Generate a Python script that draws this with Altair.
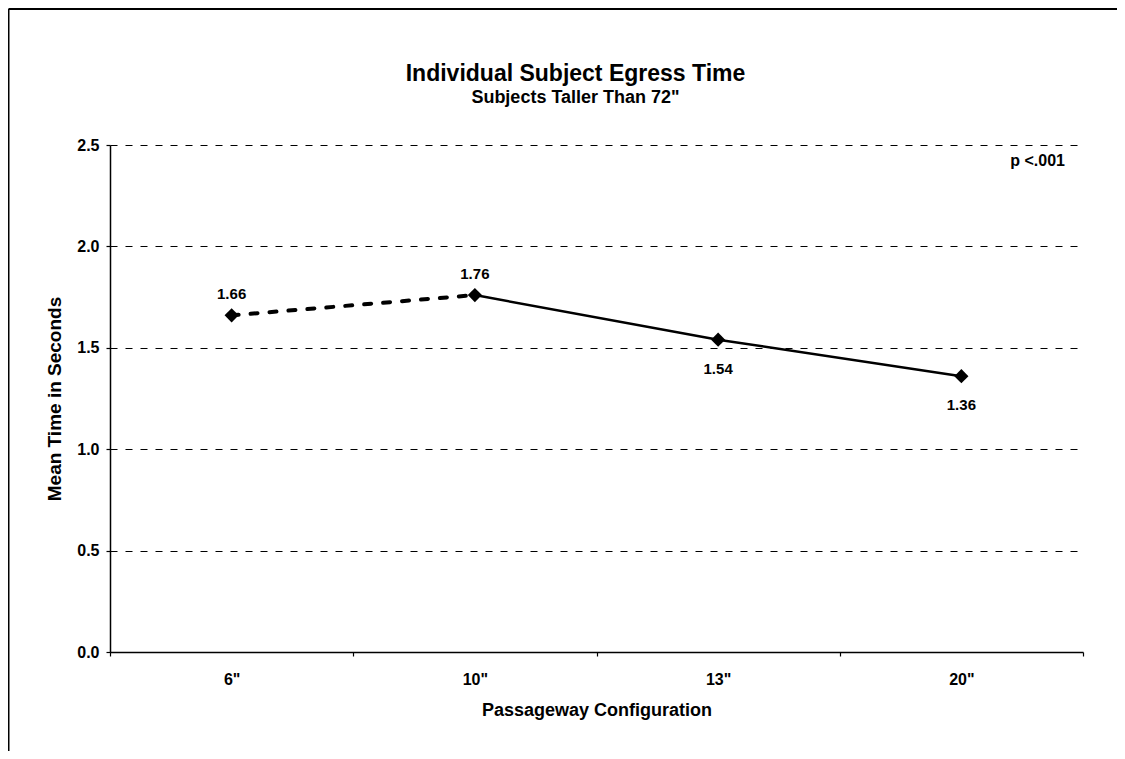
import altair as alt
import pandas as pd

# ---- data ----
configs = ['6"', '10"', '13"', '20"']
mean_times = [1.66, 1.76, 1.54, 1.36]
label_side = ["above", "above", "below", "below"]
dashed_group = ['6"', '10"']
solid_group = ['10"', '13"', '20"']
y_ticks = [0.0, 0.5, 1.0, 1.5, 2.0, 2.5]
note_text = ["p <.001"]

FONT = "Liberation Sans"

df = pd.DataFrame({
    "config": configs,
    "time": mean_times,
    "side": label_side,
    "label": [f"{v:.2f}" for v in mean_times],
})
note_df = pd.DataFrame({"note": note_text})
frame_df = pd.DataFrame({"k": [0]})

x = alt.X(
    "config:N",
    sort=configs,
    scale=alt.Scale(type="band", paddingInner=0, paddingOuter=0),
    axis=alt.Axis(
        title="Passageway Configuration",
        labelAngle=0,
        tickBand="extent",
        grid=False,
        tickSize=4,
        labelPadding=15,
        titlePadding=14,
        labelFontSize=16,
        titleFontSize=18,
    ),
)
y = alt.Y(
    "time:Q",
    scale=alt.Scale(domain=[0, 2.5], nice=False),
    axis=alt.Axis(
        values=y_ticks,
        format=".1f",
        title="Mean Time in Seconds",
        grid=True,
        gridDash=[7, 8],
        gridColor="black",
        gridWidth=1.2,
        gridOpacity=1,
        tickSize=4,
        labelPadding=7,
        titlePadding=12,
        labelFontSize=16,
        titleFontSize=19,
    ),
)

base = alt.Chart(df).encode(x=x, y=y)

dashed = base.transform_filter(
    alt.FieldOneOfPredicate(field="config", oneOf=dashed_group)
).mark_line(color="black", strokeWidth=4, strokeDash=[7, 12], strokeCap="round")

solid = base.transform_filter(
    alt.FieldOneOfPredicate(field="config", oneOf=solid_group)
).mark_line(color="black", strokeWidth=2.5)

points = base.mark_point(shape="diamond", filled=True, color="black", size=200, opacity=1)

above = base.transform_filter(alt.datum.side == "above").mark_text(
    dy=-21, font=FONT, fontSize=15, fontWeight="bold", color="black"
).encode(text="label:N")

below = base.transform_filter(alt.datum.side == "below").mark_text(
    dy=29, font=FONT, fontSize=15, fontWeight="bold", color="black"
).encode(text="label:N")

note = alt.Chart(note_df).mark_text(
    align="right", baseline="middle", font=FONT, fontSize=16, fontWeight="bold", color="black"
).encode(x=alt.value(955), y=alt.value(16), text="note:N")

top_line = alt.Chart(frame_df).mark_rule(color="black", strokeWidth=2).encode(
    x=alt.value(-101.5), x2=alt.value(1007), y=alt.value(-136), y2=alt.value(-136)
)
left_line = alt.Chart(frame_df).mark_rule(color="black", strokeWidth=2).encode(
    x=alt.value(-101.5), x2=alt.value(-101.5), y=alt.value(-136), y2=alt.value(606)
)

chart = alt.layer(
    top_line, left_line, dashed, solid, points, above, below, note
).properties(
    width=973,
    height=507,
    autosize=alt.AutoSizeParams(type="none"),
    padding={"left": 102, "top": 137, "right": 34, "bottom": 99},
    title=alt.TitleParams(
        text="Individual Subject Egress Time",
        subtitle='Subjects Taller Than 72"',
        font=FONT,
        fontSize=23,
        fontWeight="bold",
        subtitleFont=FONT,
        subtitleFontSize=18,
        subtitleFontWeight="bold",
        subtitleColor="black",
        color="black",
        anchor="middle",
        frame="group",
        dx=-21,
        offset=-99,
        subtitlePadding=3,
    ),
).configure_view(
    stroke=None
).configure_axis(
    domainColor="black",
    domainWidth=1.5,
    tickColor="black",
    tickWidth=1.2,
    labelFont=FONT,
    titleFont=FONT,
    labelFontWeight="bold",
    titleFontWeight="bold",
    labelColor="black",
    titleColor="black",
)

chart.save("out.html", embed_options={"renderer": "svg", "actions": False})
